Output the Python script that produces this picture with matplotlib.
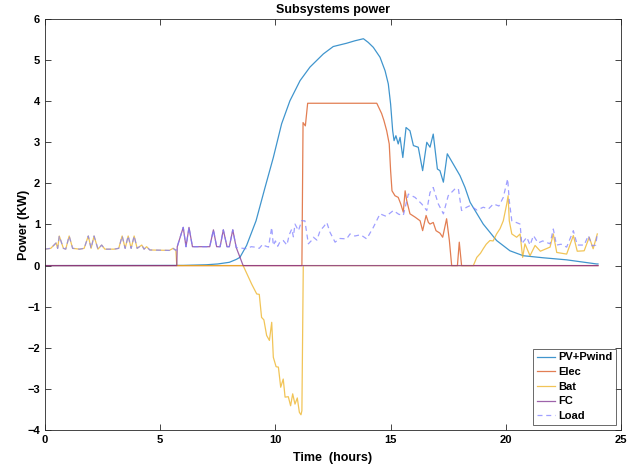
"""Subsystems power over one day (PV+wind, electrolyser, battery, fuel cell, load)."""

import matplotlib
matplotlib.use("Agg")
import matplotlib.pyplot as plt

plt.rcParams['font.family'] = ['Liberation Sans', 'DejaVu Sans']
plt.rcParams['font.weight'] = 'bold'

# night-time load, served by the battery (hours, kW)
night_t = [0, 0.25, 0.48, 0.55, 0.62, 0.8, 0.9, 1.05, 1.2, 1.5, 1.7, 1.88, 2.0, 2.13,
           2.3, 2.46, 2.6, 3.0, 3.2, 3.35, 3.48, 3.61, 3.74, 3.87, 4.0, 4.2, 4.3, 4.41,
           4.55, 5.4, 5.56, 5.68]
night_p = [0.4, 0.42, 0.55, 0.42, 0.72, 0.42, 0.4, 0.72, 0.42, 0.4, 0.42, 0.72, 0.42, 0.72,
           0.4, 0.5, 0.4, 0.4, 0.42, 0.72, 0.42, 0.72, 0.42, 0.72, 0.42, 0.5, 0.4, 0.46,
           0.38, 0.37, 0.42, 0.37]

# early-morning load, served by the fuel cell
morning_t = [5.74, 6.0, 6.12, 6.25, 6.4, 7.15, 7.31, 7.45, 7.6, 7.74, 7.9, 8.0, 8.15, 8.3]
morning_p = [0.46, 0.93, 0.46, 0.93, 0.46, 0.46, 0.87, 0.46, 0.46, 0.87, 0.46, 0.46, 0.87, 0.44]

# rest of the day load
day_t = [8.75, 8.95, 9.11, 9.3, 9.45, 9.55, 9.7, 9.84, 9.91, 10.0, 10.1, 10.2, 10.34, 10.5,
         10.6, 10.71, 10.78, 10.85, 11.0, 11.14, 11.28, 11.43, 11.55, 11.65, 11.8, 11.94,
         12.1, 12.23, 12.37, 12.59, 12.8, 13.09, 13.24, 13.45, 13.7, 13.96, 14.25, 14.54,
         14.8, 15.12, 15.35, 15.55, 15.77, 16.06, 16.35, 16.57, 16.71, 16.85, 17.07, 17.29,
         17.5, 17.8, 17.94, 18.08, 18.3, 18.45, 18.75, 19.02, 19.25, 19.46, 19.7, 19.89,
         20.08, 20.15, 20.26, 20.45, 20.62, 20.69, 20.91, 21.05, 21.2, 21.4, 21.6, 21.92,
         22.06, 22.2, 22.4, 22.64, 22.93, 23.1, 23.4, 23.58, 23.75, 23.9, 23.97]
day_p = [0.41, 0.46, 0.45, 0.42, 0.52, 0.48, 0.45, 0.93, 0.49, 0.6, 0.47, 0.58, 0.61, 0.5,
         0.75, 0.89, 0.7, 1.01, 0.85, 1.09, 1.09, 0.53, 0.6, 0.69, 0.62, 0.85,
         0.95, 1.05, 0.81, 0.57, 0.66, 0.65, 0.77, 0.72, 0.75, 0.65, 0.93, 1.26,
         1.2, 1.34, 1.25, 1.22, 1.74, 1.66, 1.5, 1.34, 1.78, 1.9, 1.5, 1.26,
         1.7, 1.87, 1.87, 1.34, 1.42, 1.46, 1.35, 1.42, 1.38, 1.5, 1.45, 1.66,
         2.11, 1.58, 1.09, 1.05, 1.01, 0.53, 0.69, 0.5, 0.73, 0.55, 0.6, 0.53,
         0.89, 0.5, 0.52, 0.45, 0.85, 0.5, 0.5, 0.73, 0.48, 0.5, 0.77]

pv_t = [0, 6.0, 7.0, 7.5, 8.0, 8.3, 8.46, 8.75, 9.16, 9.55, 9.91, 10.27, 10.63, 11.07,
        11.5, 12.08, 12.51, 13.09, 13.45, 13.82, 14.03, 14.25, 14.54, 14.76, 14.9, 15.0,
        15.09, 15.15, 15.23, 15.33, 15.41, 15.53, 15.67, 15.84, 15.99, 16.2, 16.39, 16.57,
        16.71, 16.85, 17.03, 17.14, 17.29, 17.46, 17.72, 18.01, 18.23, 18.45, 19.02, 19.6,
        20.18, 20.76, 21.63, 22.64, 23.94, 24.0]
pv_p = [0, 0.005, 0.02, 0.04, 0.08, 0.15, 0.2, 0.49, 1.09, 1.9, 2.63, 3.45, 4.01, 4.5,
        4.83, 5.15, 5.33, 5.41, 5.47, 5.52, 5.43, 5.31, 5.07, 4.74, 4.42, 3.93,
        3.28, 3.04, 3.16, 2.96, 3.12, 2.63, 3.36, 3.28, 2.92, 2.88, 2.31, 3.0,
        2.88, 3.2, 2.35, 2.31, 2.03, 2.72, 2.47, 2.19, 1.9, 1.54, 1.01, 0.61,
        0.36, 0.24, 0.19, 0.14, 0.04, 0.04]

elec_t = [0, 11.15, 11.2, 11.3, 11.4, 14.4, 14.61, 14.71, 14.83, 14.94, 15.0, 15.06, 15.19,
          15.33, 15.44, 15.55, 15.63, 15.7, 15.84, 16.06, 16.28, 16.39, 16.54, 16.64, 16.71,
          16.85, 16.97, 17.14, 17.26, 17.43, 17.55, 17.65, 17.9, 17.98, 18.08, 24]
elec_p = [0, 0, 3.48, 3.4, 3.95, 3.95, 3.7, 3.53, 3.28, 2.96, 2.31, 1.82, 1.7,
          1.66, 1.5, 1.3, 1.82, 1.58, 1.26, 1.18, 1.09, 0.85, 1.22, 1.05, 1.01,
          1.05, 0.85, 0.79, 0.69, 1.14, 0.61, 0, 0, 0.57, 0, 0]

# battery after the night: charging (negative) then evening discharge
bat_t = [5.72, 8.6, 8.97, 9.19, 9.3, 9.4, 9.5, 9.62, 9.74, 9.84, 9.91, 10.03, 10.13, 10.23,
         10.34, 10.42, 10.56, 10.66, 10.75, 10.85, 10.95, 11.04, 11.11, 11.15, 11.21, 18.59,
         18.74, 18.9, 19.02, 19.15, 19.31, 19.45, 19.6, 19.75, 19.89, 20.04, 20.1, 20.15,
         20.26, 20.47, 20.62, 20.73, 20.83, 21.05, 21.27, 21.5, 21.92, 22.06, 22.21, 22.64,
         22.93, 23.1, 23.4, 23.62, 23.79, 23.97]
bat_p = [0, 0, -0.45, -0.69, -0.7, -1.26, -1.32, -1.7, -1.82, -1.38, -2.23, -2.46, -2.47, -2.96,
         -2.76, -3.2, -3.19, -3.41, -3.12, -3.37, -3.22, -3.57, -3.63, -3.53, 0, 0,
         0.2, 0.3, 0.41, 0.52, 0.61, 0.6, 0.77, 0.9, 1.09, 1.5, 1.7, 1.09,
         0.77, 0.69, 0.77, 0.2, 0.53, 0.24, 0.49, 0.35, 0.45, 0.77, 0.32, 0.28,
         0.73, 0.35, 0.36, 0.69, 0.41, 0.77]

fc_t = [0, 5.72, 8.6, 24]
fc_p = [0, 0, 0, 0]

load_t = night_t + morning_t + day_t
load_p = night_p + morning_p + day_p

fig = plt.figure(figsize=(6.38, 4.68), dpi=100)
ax = fig.add_axes([0.0705, 0.0812, 0.9029, 0.8782])

a = 0.75
ax.plot(pv_t, pv_p, color='#0072BD', lw=0.9, alpha=a, label='PV+Pwind')
ax.plot(elec_t, elec_p, color='#D95319', lw=0.9, alpha=a, label='Elec')
ax.plot(night_t + bat_t, night_p + bat_p, color='#EDB120', lw=0.9, alpha=a, label='Bat')
ax.plot(fc_t[:2] + morning_t + fc_t[2:], fc_p[:2] + morning_p + fc_p[2:],
        color='#7E2F8E', lw=0.9, alpha=a, label='FC')
ax.plot(load_t, load_p, color='#8080FF', lw=0.9, alpha=a, ls=(0, (4, 3)), label='Load')

ax.set_xlim(0, 25)
ax.set_ylim(-4, 6)
ax.set_xticks(range(0, 26, 5))
ax.set_yticks(range(-4, 7))
ax.tick_params(direction='in', top=True, right=True, labelsize=8, length=4,
               width=0.6, color='#262626')
for s in ax.spines.values():
    s.set_linewidth(0.6)
    s.set_color('#262626')

ax.set_title('Subsystems power', fontsize=9, fontweight='bold', pad=4)
ax.set_xlabel('Time  (hours)', fontsize=9, fontweight='bold', labelpad=5)
ax.set_ylabel('Power (KW)', fontsize=9, fontweight='bold', labelpad=-2)

leg = ax.legend(loc='lower right', fontsize=8, frameon=True, fancybox=False,
                borderpad=0.35, labelspacing=0.42, handlelength=1.6, handletextpad=0.3,
                borderaxespad=0.45)
leg.get_frame().set_edgecolor('#262626')
leg.get_frame().set_linewidth(0.6)

fig.savefig('out.png', dpi=100)
